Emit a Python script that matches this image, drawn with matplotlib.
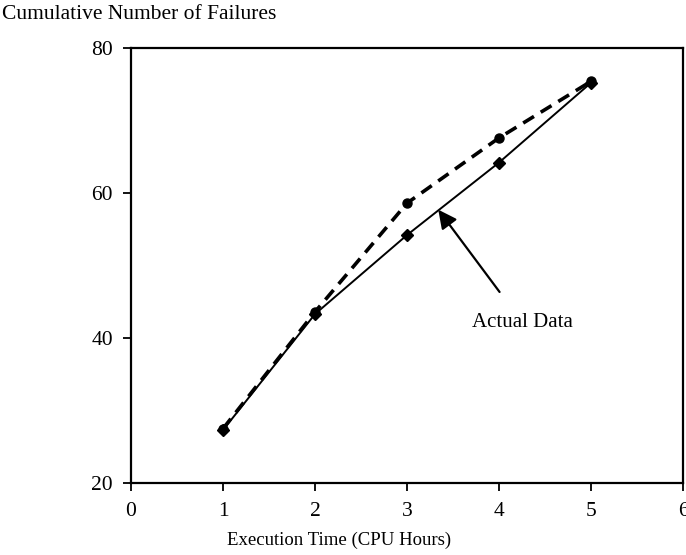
import matplotlib
matplotlib.use("Agg")
import matplotlib.pyplot as plt

# execution time and cumulative failures
hours = [1, 2, 3, 4, 5]
actual = [27.3, 43.3, 54.2, 64.2, 75.2]
predicted = [27.5, 43.6, 58.6, 67.6, 75.4]

plt.rcParams['font.family'] = ['Liberation Serif', 'DejaVu Serif']

fig = plt.figure(figsize=(6.86, 5.55), dpi=100)
ax = fig.add_axes([0.191, 0.1297, 0.8046, 0.7838])

ax.plot(hours, predicted, color='black', lw=2.6, ls=(0, (3.5, 2.2)),
        marker='o', ms=6.5, zorder=3)
ax.plot(hours, actual, color='black', lw=1.4, ls='-',
        marker='D', ms=6.5, zorder=4)

ax.annotate('Actual Data', xy=(3.34, 57.7), xytext=(4.25, 42.2),
            ha='center', va='center', fontsize=15,
            arrowprops=dict(arrowstyle='-|>', color='black', lw=1.6,
                            mutation_scale=28, shrinkA=16, shrinkB=0))

ax.set_xlim(0, 6)
ax.set_ylim(20, 80)
ax.set_xticks(range(0, 7))
ax.set_yticks([20, 40, 60, 80])
ax.tick_params(direction='out', length=6, width=1.3, labelsize=15.5, pad=7)
ax.tick_params(axis='x', pad=8)
for s in ax.spines.values():
    s.set_linewidth(1.6)

fig.text(0.003, 0.973, 'Cumulative Number of Failures', fontsize=15.5,
         ha='left', va='center')
fig.text(0.494, 0.027, 'Execution Time (CPU Hours)', fontsize=13.5,
         ha='center', va='center')

fig.savefig('out.png', dpi=100)
